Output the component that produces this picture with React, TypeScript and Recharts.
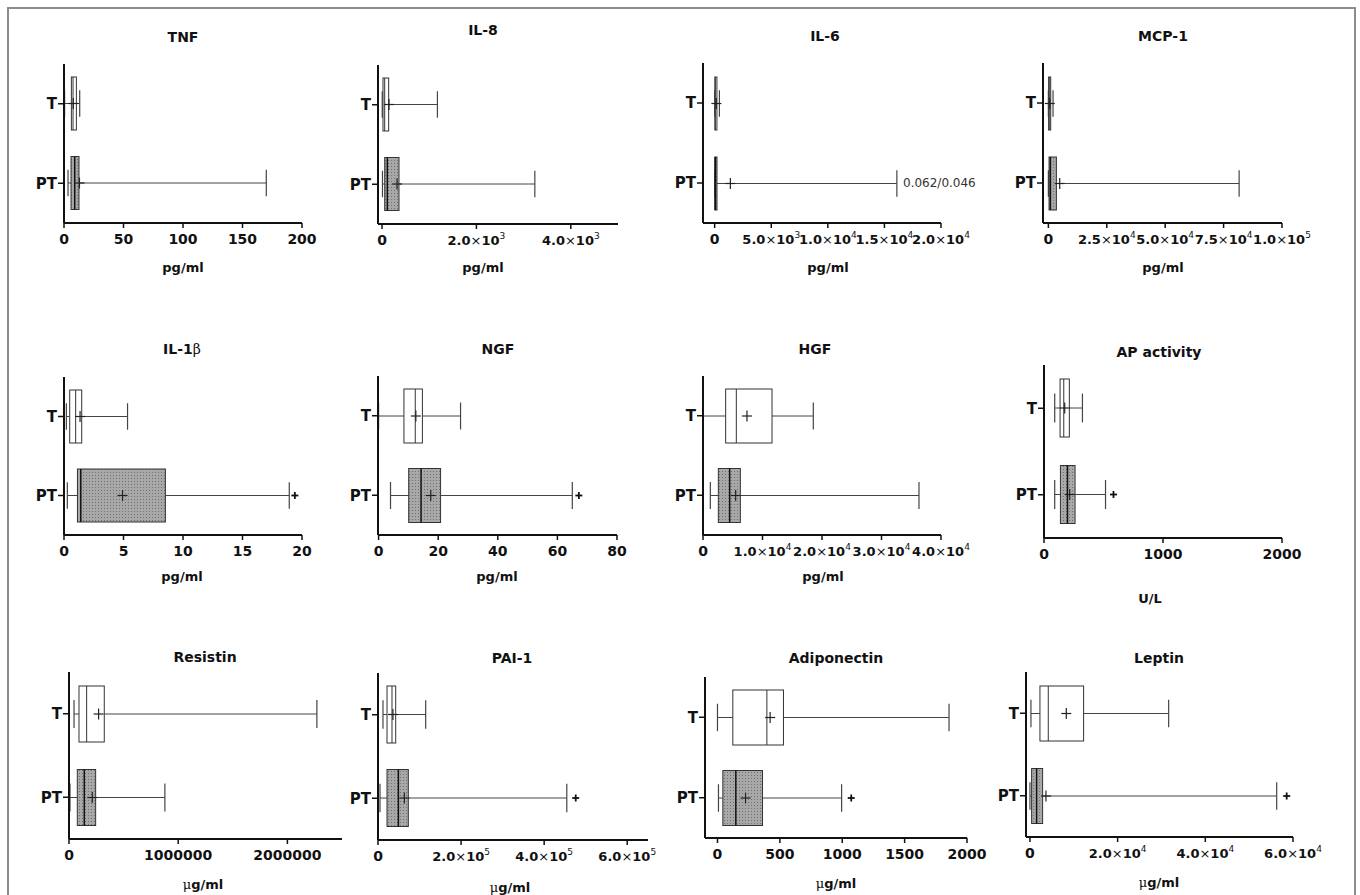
import React from 'react';
import { ComposedChart, Bar, XAxis, YAxis } from 'recharts';

const GROUPS = ['T', 'PT'];

const TITLES = ['TNF', 'IL-8', 'IL-6', 'MCP-1', 'IL-1β', 'NGF', 'HGF', 'AP activity', 'Resistin', 'PAI-1', 'Adiponectin', 'Leptin'];
const UNITS = ['pg/ml', 'pg/ml', 'pg/ml', 'pg/ml', 'pg/ml', 'pg/ml', 'pg/ml', 'U/L', 'μg/ml', 'μg/ml', 'μg/ml', 'μg/ml'];

// min, q1, median, q3, max, mean
const TNF_T = [0.5, 6.2, 7.6, 10.4, 13.2, 7.8];
const TNF_PT = [3.4, 5.9, 9, 12.6, 170, 13];
const IL8_T = [5, 21, 57, 141, 1174, 148];
const IL8_PT = [10, 57, 113, 360, 3238, 318];
const IL6_T = [0, 20, 60, 200, 420, 150];
const IL6_PT = [0, 10, 60, 207, 16100, 1388];
const MCP1_T = [0, 100, 570, 1000, 2000, 600];
const MCP1_PT = [0, 286, 860, 3430, 81650, 4860];
const IL1B_T = [0.2, 0.48, 0.98, 1.49, 5.34, 1.35];
const IL1B_PT = [0.28, 1.13, 1.41, 8.52, 18.93, 4.92];
const NGF_T = [0, 8.5, 12.3, 14.7, 27.5, 12.5];
const NGF_PT = [4.0, 10.1, 14.25, 20.8, 65, 17.5];
const HGF_T = [0, 3810, 5600, 11600, 18540, 7390];
const HGF_PT = [1232, 2577, 4482, 6274, 36300, 5490];
const AP_T = [90, 135, 166, 213, 323, 174];
const AP_PT = [90, 138, 197, 261, 517, 216];
const RESISTIN_T = [46000, 91500, 161600, 323000, 2270000, 271000];
const RESISTIN_PT = [9000, 76000, 140000, 244000, 878000, 213000];
const PAI1_T = [12000, 21700, 33700, 42600, 114800, 36000];
const PAI1_PT = [4800, 21700, 49000, 73000, 454500, 63400];
const ADIPO_T = [0, 123, 396, 529, 1856, 422];
const ADIPO_PT = [8, 43, 147, 361, 995, 225];
const LEPTIN_T = [228, 2280, 4180, 12240, 31640, 8290];
const LEPTIN_PT = [0, 380, 1520, 2890, 56280, 3650];

const STATS = [
  [TNF_T, TNF_PT], [IL8_T, IL8_PT], [IL6_T, IL6_PT], [MCP1_T, MCP1_PT],
  [IL1B_T, IL1B_PT], [NGF_T, NGF_PT], [HGF_T, HGF_PT], [AP_T, AP_PT],
  [RESISTIN_T, RESISTIN_PT], [PAI1_T, PAI1_PT], [ADIPO_T, ADIPO_PT], [LEPTIN_T, LEPTIN_PT],
];

// outlier points (T, PT)
const OUTLIERS = [
  [null, null], [null, null], [null, null], [null, null],
  [null, 19.4], [null, 67.2], [null, null], [null, 584],
  [null, null], [null, 476000], [null, 1072], [null, 58560],
];

const TICKS = [
  [0, 50, 100, 150, 200],
  [0, 2000, 4000],
  [0, 5000, 10000, 15000, 20000],
  [0, 25000, 50000, 75000, 100000],
  [0, 5, 10, 15, 20],
  [0, 20, 40, 60, 80],
  [0, 10000, 20000, 30000, 40000],
  [0, 1000, 2000],
  [0, 1000000, 2000000],
  [0, 200000, 400000, 600000],
  [0, 500, 1000, 1500, 2000],
  [0, 20000, 40000, 60000],
];
const SCI = [false, true, true, true, false, false, true, false, false, true, false, true];

const DOMAINS = [
  [0, 200], [-85, 5000], [-1030, 20000], [-2300, 100000],
  [0, 20], [-0.2, 80], [0, 40000], [0, 2000],
  [0, 2500000], [0, 650000], [-100, 2000], [-900, 60000],
];

// plot area in page pixels, box thickness, title and unit centres
const LAYOUT = [
  { l: 64, r: 302, t: 64, b: 223, box: 53, title: [183, 37], unit: [183, 267] },
  { l: 378, r: 618, t: 65, b: 224, box: 53, title: [483, 30], unit: [483, 267] },
  { l: 703, r: 941, t: 63, b: 223, box: 53, title: [825, 36], unit: [828, 267] },
  { l: 1043, r: 1282, t: 63, b: 223, box: 53, title: [1163, 36], unit: [1163, 267] },
  { l: 64, r: 302, t: 377, b: 535, box: 53, title: [182, 349], unit: [182, 576] },
  { l: 378, r: 617, t: 376, b: 535, box: 54, title: [498, 349], unit: [497, 576] },
  { l: 703, r: 941, t: 376, b: 535, box: 54, title: [815, 349], unit: [823, 576] },
  { l: 1044, r: 1282, t: 365, b: 538, box: 58, title: [1159, 352], unit: [1150, 598] },
  { l: 69, r: 342, t: 672, b: 839, box: 56, title: [205, 657], unit: [203, 884] },
  { l: 378, r: 648, t: 673, b: 840, box: 57, title: [512, 658], unit: [510, 887] },
  { l: 705, r: 967, t: 677, b: 838, box: 55, title: [836, 658], unit: [836, 883] },
  { l: 1026, r: 1293, t: 672, b: 837, box: 55, title: [1159, 658], unit: [1159, 882] },
];

const FONT = '"DejaVu Sans", sans-serif';
const SUP: Record<string, string> = { '3': '3', '4': '4', '5': '5' };

function withGreek(s: string) {
  return s.split(/([μβ])/).map((part, k) =>
    part === 'μ' || part === 'β' ? (
      <span key={k} style={{ fontFamily: '"DejaVu Serif", serif', fontWeight: 'normal' }}>{part}</span>
    ) : (
      <React.Fragment key={k}>{part}</React.Fragment>
    )
  );
}

function makeTick(sci: boolean) {
  return function Tick(props: any) {
    const { x, y, payload } = props;
    const v = payload.value;
    const common = { x, y, dy: 11, textAnchor: 'middle' as const, fontFamily: FONT, fontWeight: 'bold', fill: '#111' };
    if (!sci || v === 0) {
      return <text {...common} fontSize={14}>{String(v)}</text>;
    }
    const e = Math.floor(Math.log10(v) + 1e-9);
    const m = (v / Math.pow(10, e)).toFixed(1);
    return (
      <text {...common} fontSize={13}>
        {m}
        <tspan fontWeight="normal">×</tspan>
        10
        <tspan dy={-6} fontSize={9} fontWeight="normal">{SUP[String(e)] ?? String(e)}</tspan>
      </text>
    );
  };
}

function BoxShape(props: any) {
  const { x, y, width, height, payload, patternId } = props;
  const { group, min, q1, median, q3, max, mean, out } = payload;
  const k = width / (max - min);
  const px = (v: number) => x + (v - min) * k;
  const cy = y + height / 2;
  const cap = height / 4;
  const filled = group === 'PT';
  return (
    <g>
      <line x1={px(min)} y1={cy} x2={px(q1)} y2={cy} stroke="#444" strokeWidth={1} />
      <line x1={px(q3)} y1={cy} x2={px(max)} y2={cy} stroke="#444" strokeWidth={1} />
      <line x1={px(min)} y1={cy - cap} x2={px(min)} y2={cy + cap} stroke="#444" strokeWidth={1.2} />
      <line x1={px(max)} y1={cy - cap} x2={px(max)} y2={cy + cap} stroke="#444" strokeWidth={1.2} />
      <rect
        x={px(q1)}
        y={y}
        width={Math.max(px(q3) - px(q1), 1)}
        height={height}
        fill={filled ? `url(#${patternId})` : '#fff'}
        stroke="#333"
        strokeWidth={1}
      />
      <line x1={px(median)} y1={y} x2={px(median)} y2={y + height} stroke={filled ? '#111' : '#333'} strokeWidth={filled ? 1.5 : 1} />
      <line x1={px(mean) - 5} y1={cy} x2={px(mean) + 5} y2={cy} stroke="#222" strokeWidth={1.2} />
      <line x1={px(mean)} y1={cy - 5.5} x2={px(mean)} y2={cy + 5.5} stroke="#222" strokeWidth={1.2} />
      {out != null && (
        <g>
          <line x1={px(out) - 3.5} y1={cy} x2={px(out) + 3.5} y2={cy} stroke="#111" strokeWidth={1.8} />
          <line x1={px(out)} y1={cy - 3.5} x2={px(out)} y2={cy + 3.5} stroke="#111" strokeWidth={1.8} />
        </g>
      )}
    </g>
  );
}

function Panel({ i }: { i: number }) {
  const g = LAYOUT[i];
  const yW = 50;
  const mt = 10;
  const mr = 40;
  const xH = 40;
  const width = g.r - g.l + yW + mr;
  const height = g.b - g.t + mt + xH;
  const patternId = `dots-${i}`;
  const data = GROUPS.map((grp, j) => {
    const s = STATS[i][j];
    return { group: grp, min: s[0], q1: s[1], median: s[2], q3: s[3], max: s[4], mean: s[5], out: OUTLIERS[i][j] };
  });
  const Tick = makeTick(SCI[i]);
  return (
    <>
      <div style={{ position: 'absolute', left: g.l - yW, top: g.t - mt }}>
        <ComposedChart layout="vertical" width={width} height={height} data={data} margin={{ top: mt, right: mr, bottom: 0, left: 0 }}>
          <defs>
            <pattern id={patternId} width={3} height={3} patternUnits="userSpaceOnUse">
              <rect width={3} height={3} fill="#a8a8a8" />
              <rect width={1} height={1} fill="#707070" />
            </pattern>
          </defs>
          <XAxis
            type="number"
            domain={DOMAINS[i]}
            ticks={TICKS[i]}
            interval={0}
            allowDataOverflow
            height={xH}
            axisLine={{ stroke: '#111', strokeWidth: 2 }}
            tickLine={{ stroke: '#111', strokeWidth: 1.5 }}
            tickSize={5}
            tickMargin={5}
            tick={<Tick />}
          />
          <YAxis
            type="category"
            dataKey="group"
            width={yW}
            axisLine={{ stroke: '#111', strokeWidth: 2 }}
            tickLine={{ stroke: '#111', strokeWidth: 1.5 }}
            tickSize={6}
            tickMargin={1}
            tick={{ fontSize: 15, fontWeight: 'bold', fill: '#111', fontFamily: FONT }}
          />
          <Bar
            dataKey={(d: any) => [d.min, d.max]}
            barSize={g.box}
            isAnimationActive={false}
            shape={(p: any) => <BoxShape {...p} patternId={patternId} />}
          />
        </ComposedChart>
      </div>
      <div style={{ ...labelStyle, left: g.title[0], top: g.title[1], fontSize: 14 }}>{withGreek(TITLES[i])}</div>
      <div style={{ ...labelStyle, left: g.unit[0], top: g.unit[1], fontSize: 13 }}>{withGreek(UNITS[i])}</div>
    </>
  );
}

const labelStyle: React.CSSProperties = {
  position: 'absolute',
  transform: 'translate(-50%, -50%)',
  fontFamily: FONT,
  fontWeight: 'bold',
  color: '#111',
  whiteSpace: 'nowrap',
  lineHeight: 1,
};

export default function App() {
  return (
    <div style={{ position: 'absolute', left: 0, top: 0, width: 1360, height: 895, overflow: 'hidden', background: '#fff' }}>
      <div
        style={{
          position: 'absolute',
          left: 7,
          top: 7,
          width: 1345,
          height: 1000,
          borderTop: '2px solid #8c8c8c',
          borderLeft: '2px solid #8c8c8c',
          borderRight: '2px solid #8c8c8c',
        }}
      />
      {TITLES.map((_, i) => (
        <Panel key={i} i={i} />
      ))}
      <div
        style={{
          position: 'absolute',
          left: 903,
          top: 183,
          transform: 'translateY(-50%)',
          fontFamily: FONT,
          fontSize: 12,
          color: '#333',
          whiteSpace: 'nowrap',
          lineHeight: 1,
        }}
      >
        0.062/0.046
      </div>
    </div>
  );
}
